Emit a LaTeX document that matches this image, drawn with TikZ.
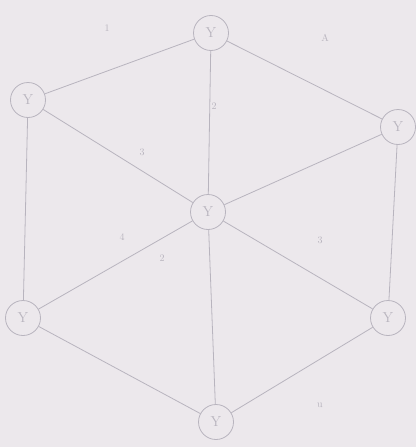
\documentclass[tikz,border=0pt]{standalone}
\usepackage{tikz}

\definecolor{paper}{RGB}{236,232,236}
\definecolor{pencil}{RGB}{184,180,190}

\begin{document}
\begin{tikzpicture}[x=1pt,y=-1pt]
  \tikzset{vert/.style={circle,draw=pencil,line width=.8pt,minimum size=35pt,inner sep=0pt,text=pencil,font=\Large},
           lab/.style={text=pencil,font=\normalsize}}

  \fill[paper] (0,0) rectangle (416,447);
  \useasboundingbox (0,0) rectangle (416,447);

  \node[vert] (top) at (211, 33)  {Y};
  \node[vert] (ul)  at ( 28,100)  {Y};
  \node[vert] (ur)  at (398,127)  {Y};
  \node[vert] (mid) at (208,212)  {Y};
  \node[vert] (ll)  at ( 23,318)  {Y};
  \node[vert] (lr)  at (388,318)  {Y};
  \node[vert] (bot) at (216,422)  {Y};

  \path[-,draw=pencil,line width=.8pt]
    (top) edge (ul)
    (top) edge (ur)
    (top) edge (mid)
    (ul)  edge (mid)
    (ur)  edge (mid)
    (mid) edge (ll)
    (mid) edge (lr)
    (mid) edge (bot)
    (ll)  edge (bot)
    (lr)  edge (bot)
    (ul)  edge (ll)
    (ur)  edge (lr);

  \node[lab] (l1) at (107, 28)  {1};
  \node[lab] (l2) at (325, 38)  {A};
  \node[lab] (l3) at (214,106)  {2};
  \node[lab] (l4) at (142,152)  {3};
  \node[lab] (l5) at (122,237)  {4};
  \node[lab] (l6) at (320,240)  {3};
  \node[lab] (l7) at (162,258)  {2};
  \node[lab] (l8) at (320,405)  {u};
\end{tikzpicture}
\end{document}
